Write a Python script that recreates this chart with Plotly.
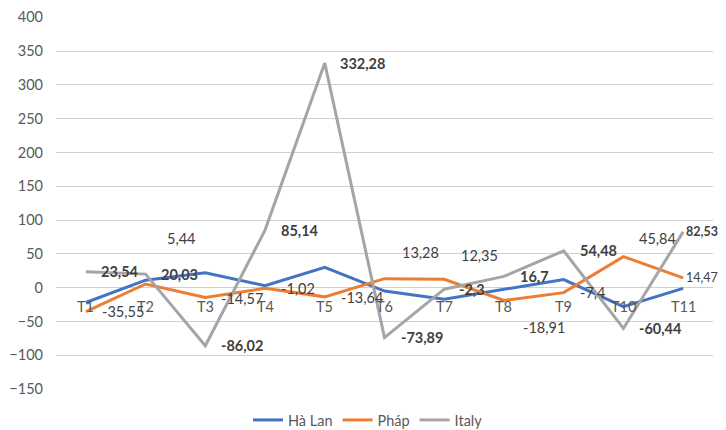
import plotly.graph_objects as go

categories = ["T1", "T2", "T3", "T4", "T5", "T6", "T7", "T8", "T9", "T10", "T11"]
ha_lan = [-22, 11, 22, 3, 30, -5, -17, -2, 12, -28, -1]
phap = [-35.55, 5.44, -14.57, -1.02, -13.64, 13.28, 12.35, -18.91, -7.4, 45.84, 14.47]
italy = [23.54, 20.03, -86.02, 85.14, 332.28, -73.89, -2.3, 16.7, 54.48, -60.44, 82.53]

# label offsets / sizes (pixels) - styling only
phap_dx = [14, 19, 14, 14, 14, 15, 15, 17, 14, 14, 1]
phap_dy = [0, 45, -1, 0, -1, 26, 24, -27, 0, 18, 0]
italy_dx = [13, 13, 14, 14, 13, 14, 13, 14, 14, 14, 1]
label_fs = [14.5] * 10 + [12.5]

FONT = "Lato, sans-serif"
TXT = "#404040"
AX = "#595959"
FS = 14.5

def fmt(v):
    return f"{v:g}".replace(".", ",")

fig = go.Figure()
fig.add_trace(go.Scatter(x=categories, y=ha_lan, name="Hà Lan", mode="lines",
                         line=dict(color="#4472C4", width=3)))
fig.add_trace(go.Scatter(x=categories, y=phap, name="Pháp", mode="lines",
                         line=dict(color="#ED7D31", width=3)))
fig.add_trace(go.Scatter(x=categories, y=italy, name="Italy", mode="lines",
                         line=dict(color="#A5A5A5", width=3)))

annotations = []
for i, c in enumerate(categories):
    annotations.append(dict(x=c, y=0, xref="x", yref="y", text=c, showarrow=False,
                            yshift=-19, font=dict(family=FONT, size=FS, color=AX)))
    annotations.append(dict(x=c, y=phap[i], xref="x", yref="y", text=fmt(phap[i]),
                            showarrow=False, xanchor="left", yanchor="middle",
                            xshift=phap_dx[i], yshift=phap_dy[i],
                            font=dict(family=FONT, size=label_fs[i], color=TXT)))
    annotations.append(dict(x=c, y=italy[i], xref="x", yref="y", text="<b>" + fmt(italy[i]) + "</b>",
                            showarrow=False, xanchor="left", yanchor="middle",
                            xshift=italy_dx[i], yshift=0,
                            font=dict(family=FONT, size=label_fs[i], color=TXT)))

W, H = 718, 422
fig.update_layout(
    width=W, height=H,
    margin=dict(l=48, r=13, t=9, b=41, autoexpand=False),
    paper_bgcolor="white", plot_bgcolor="white",
    font=dict(family=FONT, size=FS, color=AX),
    showlegend=True,
    legend=dict(orientation="h", x=(368 - 8) / W, xanchor="center", xref="container",
                y=10 / H, yanchor="middle", yref="container",
                font=dict(family=FONT, size=FS, color=AX)),
    annotations=annotations,
    xaxis=dict(type="category", range=[-0.5, 10.5], showticklabels=False, showgrid=False,
               zeroline=False, showline=False, automargin=False),
    yaxis=dict(range=[-150, 400.5], dtick=50, tick0=0, showgrid=True, gridcolor="#d0d0d0",
               gridwidth=1, zeroline=False, showline=False, ticklabelstandoff=12,
               ticklabeloverflow="allow", automargin=False,
               tickfont=dict(family=FONT, size=FS, color=AX)),
)

fig.write_html("out.html")
